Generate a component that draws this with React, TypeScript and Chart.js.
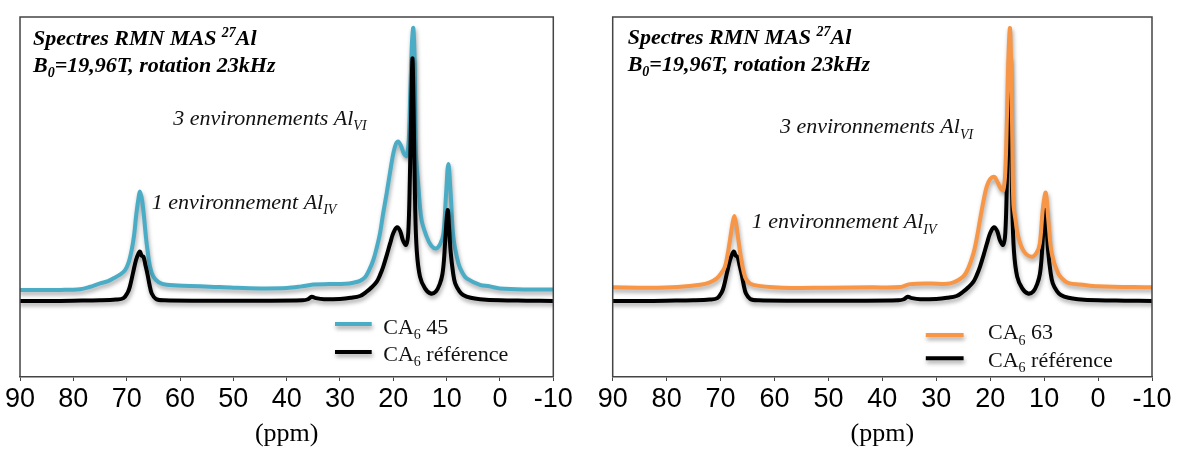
import React, { useEffect, useRef } from 'react';
import { Chart, registerables } from 'chart.js';

Chart.register(...registerables);

// ---------- data ----------
const xTicks = [90, 80, 70, 60, 50, 40, 30, 20, 10, 0, -10];

const refPpm = [90, 85, 80, 75, 72, 70.6, 69.8, 69.4, 68.8, 68.25, 67.8, 67.5, 67.2, 66.85, 66.5, 66.1, 65.7, 65.3, 64.5, 63, 55, 45, 37, 36, 35.3, 34.5, 33, 30, 28, 26.25, 25, 24, 23.1, 22.5, 21.9, 21.2, 20.6, 20.0, 19.3, 18.7, 18.2, 17.6, 17.2, 16.9, 16.6, 16.4, 16.2, 15.9, 15.6, 15.0, 14.06, 13.0, 12.0, 11.25, 10.8, 10.5, 10.2, 9.81, 9.5, 9.25, 8.8, 8.4, 7.6, 6.9, 5.5, 3.75, 0, -5, -10];
const refInt = [21.1, 21.1, 21.2, 21.3, 21.5, 21.9, 23.5, 25.1, 29.0, 32.5, 34.3, 34.8, 33.7, 33.4, 31.2, 28.6, 25.5, 23.2, 21.7, 21.3, 21.2, 21.2, 21.3, 21.6, 22.3, 21.9, 21.6, 21.7, 22.0, 22.5, 23.7, 25.0, 26.5, 28.3, 30.6, 34.0, 37.1, 40.0, 41.6, 40.5, 38.0, 36.7, 40, 55, 78, 88.5, 75, 47, 35, 27.9, 24.6, 23.2, 23.8, 26.0, 28.5, 32.5, 39.5, 46.4, 40.5, 34.8, 29.0, 26.0, 23.8, 22.8, 22.0, 21.6, 21.3, 21.2, 21.1];

const ca45Ppm = [90, 85, 82.5, 78.75, 77, 75, 73.5, 72.5, 71.2, 70.3, 69.6, 69.06, 68.6, 68.25, 67.85, 67.5, 67.1, 66.75, 66.4, 66.1, 65.6, 65.0, 64.0, 62.5, 58, 54.4, 50, 45, 40, 37.5, 35, 32, 29, 27.5, 26.25, 25.3, 24.5, 23.75, 23.1, 22.5, 21.9, 21.25, 20.6, 20.0, 19.5, 19.06, 18.5, 18.0, 17.5, 17.1, 16.8, 16.5, 16.25, 16.0, 15.9, 15.75, 15.3, 14.7, 13.75, 12.9, 12.0, 11.2, 10.6, 10.1, 9.69, 9.25, 8.75, 7.8, 7.0, 6.25, 3.75, 2, 0, -5, -10];
const ca45Int = [24.2, 24.2, 24.2, 24.4, 25.0, 26.0, 26.6, 27.4, 28.5, 29.7, 32.0, 35.3, 39.5, 44.5, 49.0, 51.5, 49.0, 44.5, 39.0, 35.3, 30.5, 27.9, 26.3, 25.6, 25.3, 25.1, 24.8, 24.6, 24.7, 25.1, 25.7, 25.8, 25.9, 26.2, 26.7, 27.7, 29.8, 32.5, 36.0, 39.9, 45.5, 51.0, 57.0, 62.1, 64.8, 65.4, 64.0, 62.0, 61.4, 66, 80, 93, 96.9, 88, 75, 62, 52.9, 43.6, 39.0, 36.5, 35.7, 37.0, 39.9, 51.0, 59.2, 51.0, 39.0, 31.6, 28.8, 27.4, 25.6, 25.2, 24.6, 24.3, 24.3];

const ca63Ppm = [90, 83, 78, 73.8, 72, 70.7, 69.9, 69.2, 68.7, 68.25, 67.8, 67.45, 67.1, 66.7, 66.2, 65.8, 65.2, 63.9, 58.4, 50, 42, 36.7, 34.9, 31, 27.45, 25.0, 24.0, 23.1, 22.5, 21.9, 21.3, 20.65, 20.0, 19.24, 18.6, 18.0, 17.57, 17.2, 16.9, 16.6, 16.33, 16.1, 15.9, 15.7, 15.3, 14.8, 13.8, 12.3, 11.4, 10.8, 10.2, 9.7, 9.23, 8.6, 7.4, 6.1, 5.25, 3.3, 0, -10];
const ca63Int = [24.9, 24.8, 25.0, 25.6, 26.3, 27.4, 28.8, 30.6, 34.0, 38.1, 42.5, 44.7, 42.5, 38.1, 33.0, 29.7, 27.0, 25.6, 24.8, 24.8, 24.9, 25.0, 25.8, 26.0, 26.0, 27.9, 30.5, 34.4, 38.5, 43.6, 48.5, 52.9, 55.0, 55.6, 54.0, 52.3, 51.9, 57, 72, 90, 96.9, 85, 65, 48.2, 43.5, 39.0, 35.0, 33.4, 34.5, 37.1, 47.3, 51.2, 43.6, 34.4, 28.8, 26.6, 26.0, 25.7, 25.2, 24.9];

const labelRef = 'CA_{6} référence';
const label45 = 'CA_{6} 45';
const label63 = 'CA_{6} 63';
const titleLine1 = 'Spectres RMN MAS ^{27}Al';
const titleLine2 = 'B_{0}=19,96T, rotation 23kHz';
const annVI = '3 environnements Al_{VI}';
const annIV = '1 environnement Al_{IV}';
const axisTitle = '(ppm)';

const colRef = '#000000';
const col45 = '#4BACC6';
const col63 = '#F79646';

// ---------- helpers ----------
type Seg = { text: string; mode: '' | 'sub' | 'sup' };
function parseRich(s: string): Seg[] {
  const parts = s.split(/(_\{[^}]*\}|\^\{[^}]*\})/).filter((p) => p.length > 0);
  return parts.map((p) => {
    if (p.startsWith('_{')) return { text: p.slice(2, -1), mode: 'sub' as const };
    if (p.startsWith('^{')) return { text: p.slice(2, -1), mode: 'sup' as const };
    return { text: p, mode: '' as const };
  });
}
function drawRich(ctx: CanvasRenderingContext2D, s: string, x: number, y: number, style: string, size: number, family: string, color: string) {
  ctx.save();
  ctx.fillStyle = color;
  ctx.textAlign = 'left';
  ctx.textBaseline = 'alphabetic';
  let cx = x;
  for (const seg of parseRich(s)) {
    const sz = seg.mode ? Math.round(size * 0.65) : size;
    ctx.font = `${style} ${sz}px "${family}"`;
    const dy = seg.mode === 'sub' ? size * 0.24 : seg.mode === 'sup' ? -size * 0.36 : 0;
    ctx.fillText(seg.text, cx, y + dy);
    cx += ctx.measureText(seg.text).width;
  }
  ctx.restore();
}

function mk(ppm: number[], ints: number[]) {
  return ppm.map((p, i) => ({ x: p, y: ints[i] }));
}

type PanelCfg = {
  padL: number;
  padR: number;
  titleDx: number;
  titleDy: [number, number];
  annotations: { text: string; ppm: number; val: number }[];
  legend: {
    order: number[];
    lineFromRight: number;
    lineLen: number;
    textFromRight: number;
    lineUp: number[];
    textUp: number[];
  };
};

function decorPlugin(cfg: PanelCfg) {
  return {
    id: 'decor',
    beforeDatasetsDraw(chart: any) {
      const ctx = chart.ctx as CanvasRenderingContext2D;
      ctx.save();
      ctx.shadowColor = 'rgba(0,0,0,0.35)';
      ctx.shadowBlur = 4;
      ctx.shadowOffsetX = 1;
      ctx.shadowOffsetY = 3;
    },
    afterDatasetsDraw(chart: any) {
      const ctx = chart.ctx as CanvasRenderingContext2D;
      ctx.restore();
      const a = chart.chartArea;
      ctx.save();
      ctx.strokeStyle = '#444';
      ctx.lineWidth = 1.5;
      ctx.beginPath();
      ctx.moveTo(a.left, a.bottom);
      ctx.lineTo(a.left, a.top);
      ctx.lineTo(a.right, a.top);
      ctx.lineTo(a.right, a.bottom);
      ctx.stroke();
      ctx.restore();
      drawRich(ctx, titleLine1, a.left + cfg.titleDx, a.top + cfg.titleDy[0], 'italic bold', 22, 'Liberation Serif', '#000');
      drawRich(ctx, titleLine2, a.left + cfg.titleDx, a.top + cfg.titleDy[1], 'italic bold', 22, 'Liberation Serif', '#000');
      const xs = chart.scales.x;
      const ys = chart.scales.y;
      for (const an of cfg.annotations) {
        drawRich(ctx, an.text, xs.getPixelForValue(an.ppm), ys.getPixelForValue(an.val), 'italic', 22, 'Liberation Serif', '#111');
      }
      const L = cfg.legend;
      L.order.forEach((di, row) => {
        const ds = chart.data.datasets[di];
        const ly = a.bottom - L.lineUp[row];
        const lx = a.right - L.lineFromRight;
        ctx.save();
        ctx.shadowColor = 'rgba(0,0,0,0.35)';
        ctx.shadowBlur = 4;
        ctx.shadowOffsetX = 1;
        ctx.shadowOffsetY = 3;
        ctx.strokeStyle = ds.borderColor;
        ctx.lineWidth = 4;
        ctx.beginPath();
        ctx.moveTo(lx, ly);
        ctx.lineTo(lx + L.lineLen, ly);
        ctx.stroke();
        ctx.restore();
        drawRich(ctx, ds.label, a.right - L.textFromRight, a.bottom - L.textUp[row], 'normal', 22, 'Liberation Serif', '#111');
      });
    },
  };
}

function Panel({ left, width, datasets, cfg }: { left: number; width: number; datasets: any[]; cfg: PanelCfg }) {
  const ref = useRef<HTMLCanvasElement>(null);
  useEffect(() => {
    const chart = new Chart(ref.current as HTMLCanvasElement, {
      type: 'line',
      data: { datasets },
      options: {
        animation: false,
        responsive: false,
        devicePixelRatio: 1,
        layout: { padding: { left: cfg.padL, right: cfg.padR, top: 17, bottom: 3 } },
        plugins: { legend: { display: false }, tooltip: { enabled: false } },
        elements: {
          point: { radius: 0 },
          line: { borderWidth: 4, tension: 0.35, borderCapStyle: 'round', borderJoinStyle: 'round', capBezierPoints: true },
        },
        scales: {
          x: {
            type: 'linear',
            reverse: true,
            min: -10,
            max: 90,
            afterBuildTicks: (axis: any) => {
              axis.ticks = xTicks.map((v) => ({ value: v }));
            },
            grid: { display: true, drawOnChartArea: false, drawTicks: true, tickLength: 4, color: '#444', lineWidth: 1 },
            border: { display: true, color: '#444', width: 1.5 },
            ticks: {
              autoSkip: false,
              maxRotation: 0,
              minRotation: 0,
              padding: 5,
              color: '#000',
              callback: (v: any) => String(v),
              font: { family: 'Liberation Sans', size: 27, lineHeight: 1 },
            },
            title: {
              display: true,
              text: axisTitle,
              color: '#000',
              font: { family: 'Liberation Serif', size: 26, lineHeight: 1 },
              padding: { top: 3, bottom: 0 },
            },
          },
          y: { display: false, min: 0, max: 100 },
        },
      } as any,
      plugins: [decorPlugin(cfg)],
    });
    return () => chart.destroy();
  }, []);
  return (
    <canvas
      ref={ref}
      width={width}
      height={450}
      style={{ position: 'absolute', left, top: 0, width, height: 450, display: 'block' }}
    />
  );
}

const leftDatasets = [
  { label: label45, data: mk(ca45Ppm, ca45Int), borderColor: col45, order: 1 },
  { label: labelRef, data: mk(refPpm, refInt), borderColor: colRef, order: 0 },
];
const rightDatasets = [
  { label: label63, data: mk(ca63Ppm, ca63Int), borderColor: col63, order: 0 },
  { label: labelRef, data: mk(refPpm, refInt), borderColor: colRef, order: 1 },
];

const leftCfg: PanelCfg = {
  padL: 20,
  padR: 36.7,
  titleDx: 13,
  titleDy: [28, 55],
  annotations: [
    { text: annVI, ppm: 61.25, val: 70 },
    { text: annIV, ppm: 65.3, val: 46.7 },
  ],
  legend: { order: [0, 1], lineFromRight: 218.3, lineLen: 36.7, textFromRight: 170, lineUp: [53, 25], textUp: [43, 16] },
};
const rightCfg: PanelCfg = {
  padL: 22.7,
  padR: 29,
  titleDx: 15,
  titleDy: [27, 54],
  annotations: [
    { text: annVI, ppm: 59.0, val: 67.7 },
    { text: annIV, ppm: 64.2, val: 41.3 },
  ],
  legend: { order: [0, 1], lineFromRight: 226.2, lineLen: 37.8, textFromRight: 164, lineUp: [42, 18.7], textUp: [37.7, 10.3] },
};

export default function App() {
  return (
    <div style={{ position: 'absolute', left: 0, top: 0, width: 1181, height: 450, background: '#fff' }}>
      <Panel left={0} width={590} datasets={leftDatasets} cfg={leftCfg} />
      <Panel left={590} width={591} datasets={rightDatasets} cfg={rightCfg} />
    </div>
  );
}
